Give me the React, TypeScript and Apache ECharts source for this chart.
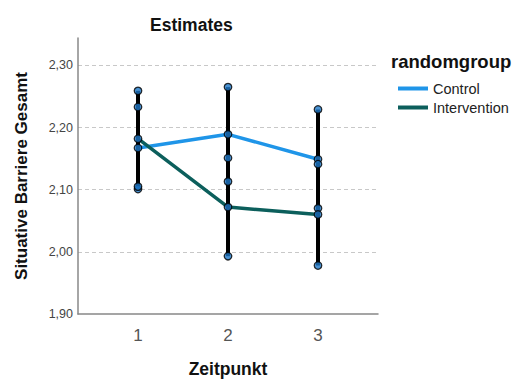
import React, { useEffect, useRef } from "react";
import * as echarts from "echarts";

const timepoints = [1, 2, 3];
const groups = ["Control", "Intervention"];
const controlMean = [2.167, 2.189, 2.149];
const controlLower = [2.101, 2.113, 2.07];
const controlUpper = [2.233, 2.265, 2.229];
const interventionMean = [2.182, 2.072, 2.06];
const interventionLower = [2.105, 1.993, 1.978];
const interventionUpper = [2.259, 2.151, 2.141];
const yTicks = [1.9, 2.0, 2.1, 2.2, 2.3];

const FONT = "'Liberation Sans', Arial, sans-serif";

export default function App() {
  const ref = useRef<HTMLDivElement>(null);
  useEffect(() => {
    if (!ref.current) return;
    const chart = echarts.init(ref.current, undefined, { renderer: "svg" });

    const bars: number[][] = [];
    const points: number[][] = [];
    const addGroup = (mean: number[], lo: number[], hi: number[]) => {
      timepoints.forEach((t, i) => {
        bars.push([t, lo[i], hi[i]]);
        points.push([t, lo[i]], [t, mean[i]], [t, hi[i]]);
      });
    };
    addGroup(controlMean, controlLower, controlUpper);
    addGroup(interventionMean, interventionLower, interventionUpper);

    chart.setOption({
      animation: false,
      backgroundColor: "#ffffff",
      title: {
        text: "Estimates",
        left: 145,
        top: 11,
        textStyle: { fontFamily: FONT, fontSize: 17.5, fontWeight: "bold", color: "#111" },
      },
      grid: { left: 78, right: 139, top: 38, bottom: 65 },
      legend: {
        orient: "vertical",
        left: 393,
        top: 76,
        itemWidth: 30,
        itemHeight: 4,
        itemGap: 4,
        icon: "rect",
        data: groups,
        textStyle: { fontFamily: FONT, fontSize: 14.5, color: "#222" },
      },
      graphic: [
        {
          type: "text",
          left: 391,
          top: 52,
          style: {
            text: "randomgroup",
            font: `bold 18.5px ${FONT}`,
            fill: "#111",
          },
        },
      ],
      xAxis: {
        type: "value",
        min: 1 / 3,
        max: 11 / 3,
        name: "Zeitpunkt",
        nameLocation: "middle",
        nameGap: 46,
        nameTextStyle: { fontFamily: FONT, fontSize: 17.5, fontWeight: "bold", color: "#111" },
        axisLine: { show: true, lineStyle: { color: "#888", width: 1.5 } },
        axisTick: { show: false },
        splitLine: { show: false },
        axisLabel: {
          customValues: timepoints,
          fontFamily: FONT,
          fontSize: 17,
          color: "#555",
          margin: 13,
          formatter: (v: number) => String(Math.round(v)),
        },
      },
      yAxis: {
        type: "value",
        min: 1.9,
        max: 2.344,
        interval: 0.1,
        name: "Situative Barriere Gesamt",
        nameLocation: "middle",
        nameGap: 48,
        nameRotate: 90,
        nameTextStyle: { fontFamily: FONT, fontSize: 17, fontWeight: "bold", color: "#111" },
        axisLine: { show: true, lineStyle: { color: "#888", width: 1.5 } },
        axisTick: { show: false },
        splitLine: {
          show: true,
          showMinLine: false,
          showMaxLine: false,
          lineStyle: { color: "#c8c8c8", type: [4, 3], width: 1 },
        },
        axisLabel: {
          customValues: yTicks,
          fontFamily: FONT,
          fontSize: 12.5,
          color: "#444",
          margin: 5,
          formatter: (v: number) => v.toFixed(2).replace(".", ","),
        },
      },
      series: [
        {
          name: "Control",
          type: "line",
          data: timepoints.map((t, i) => [t, controlMean[i]]),
          symbol: "none",
          lineStyle: { color: "#1f95e8", width: 3.5 },
          itemStyle: { color: "#1f95e8" },
          z: 1,
        },
        {
          name: "Intervention",
          type: "line",
          data: timepoints.map((t, i) => [t, interventionMean[i]]),
          symbol: "none",
          lineStyle: { color: "#0c5f5c", width: 3.5 },
          itemStyle: { color: "#0c5f5c" },
          z: 1,
        },
        {
          type: "custom",
          data: bars,
          z: 2,
          renderItem: (params: any, api: any) => {
            const x = api.value(0);
            const p1 = api.coord([x, api.value(1)]);
            const p2 = api.coord([x, api.value(2)]);
            return {
              type: "line",
              shape: { x1: p1[0], y1: p1[1], x2: p2[0], y2: p2[1] },
              style: { stroke: "#000", lineWidth: 4 },
            };
          },
        },
        {
          type: "scatter",
          data: points,
          symbolSize: 7.5,
          z: 3,
          itemStyle: { color: "#1e78c8", borderColor: "#000", borderWidth: 1.3 },
        },
      ],
    });
    return () => chart.dispose();
  }, []);
  return <div ref={ref} style={{ width: 517, height: 383, position: "absolute", left: 0, top: 0 }} />;
}
